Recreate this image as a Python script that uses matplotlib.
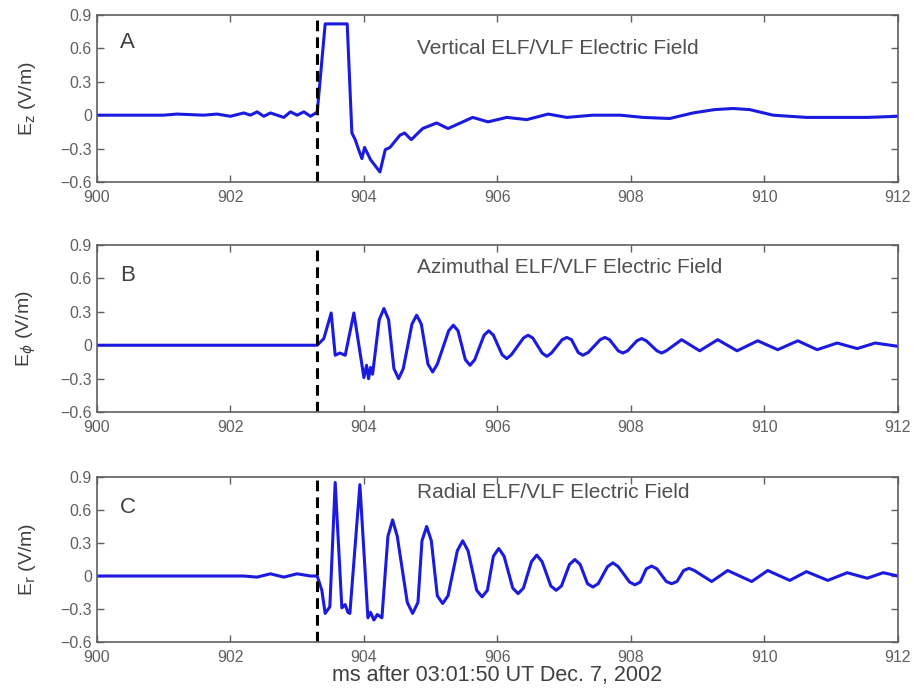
import matplotlib
matplotlib.use("Agg")
import matplotlib.pyplot as plt

plt.rcParams['font.family'] = ['Liberation Sans', 'DejaVu Sans']

# ---- data ----
ez_t = [900.0, 901.0, 901.2, 901.6, 901.8, 902.0, 902.2, 902.3, 902.4, 902.5, 902.6, 902.7,
        902.8, 902.9, 903.0, 903.1, 903.2, 903.28, 903.3, 903.42, 903.75, 903.82, 903.87,
        903.91, 903.97, 904.01, 904.1, 904.24, 904.32, 904.39, 904.54, 904.61, 904.71,
        904.88, 905.09, 905.26, 905.63, 905.86, 906.14, 906.44, 906.76, 907.04, 907.43,
        907.84, 908.18, 908.58, 908.93, 909.25, 909.53, 909.78, 910.13, 910.63, 911.54, 912.0]
ez_v = [0.0, 0.0, 0.01, 0.0, 0.01, -0.01, 0.02, 0.0, 0.03, -0.01, 0.02, 0.0,
        -0.02, 0.03, 0.0, 0.03, -0.01, 0.02, 0.02, 0.82, 0.82, -0.16, -0.22,
        -0.29, -0.39, -0.29, -0.40, -0.51, -0.31, -0.29, -0.18, -0.16, -0.22,
        -0.12, -0.07, -0.12, -0.02, -0.06, -0.02, -0.04, 0.01, -0.02, 0.0,
        0.0, -0.02, -0.03, 0.02, 0.05, 0.06, 0.05, 0.0, -0.02, -0.02, -0.01]

ephi_t = [900.0, 903.3, 903.4, 903.51, 903.57, 903.64, 903.72, 903.85, 904.0, 904.04,
          904.07, 904.1, 904.13,
          904.23, 904.30, 904.37, 904.45, 904.52, 904.59, 904.72, 904.79, 904.86,
          904.96, 905.03, 905.10, 905.27, 905.34, 905.41, 905.52, 905.59, 905.66,
          905.80, 905.87, 905.94, 906.07, 906.14, 906.21, 906.39, 906.46, 906.53,
          906.67, 906.74, 906.81, 906.97, 907.04, 907.11, 907.21, 907.28, 907.36,
          907.54, 907.61, 907.68, 907.81, 907.88, 907.95, 908.09, 908.16, 908.23,
          908.39, 908.46, 908.53,
          908.76, 909.03, 909.3, 909.59, 909.9, 910.2, 910.5, 910.79, 911.09, 911.39,
          911.66, 912.0]
ephi_v = [0.0, 0.0, 0.06, 0.29, -0.09, -0.07, -0.09, 0.29, -0.29, -0.18,
          -0.30, -0.20, -0.26,
          0.23, 0.33, 0.23, -0.21, -0.30, -0.21, 0.19, 0.27, 0.19,
          -0.17, -0.24, -0.17, 0.13, 0.18, 0.13, -0.13, -0.18, -0.13,
          0.09, 0.13, 0.09, -0.085, -0.12, -0.085, 0.065, 0.09, 0.065,
          -0.07, -0.10, -0.07, 0.05, 0.07, 0.05, -0.065, -0.09, -0.065,
          0.05, 0.07, 0.05, -0.05, -0.07, -0.05, 0.04, 0.06, 0.04,
          -0.05, -0.07, -0.05,
          0.05, -0.05, 0.05, -0.05, 0.04, -0.04, 0.04, -0.04, 0.02, -0.03,
          0.02, -0.01]

er_t = [900.0, 902.2, 902.4, 902.6, 902.8, 903.0, 903.2, 903.3, 903.37, 903.42, 903.49,
        903.57, 903.67, 903.72, 903.76, 903.79, 903.94, 904.06, 904.1, 904.15, 904.2,
        904.27,
        904.36, 904.43, 904.50, 904.65, 904.73, 904.81, 904.87, 904.94, 905.01,
        905.10, 905.18, 905.26, 905.40, 905.48, 905.56, 905.69, 905.77, 905.85,
        905.94, 906.02, 906.10, 906.23, 906.31, 906.39, 906.51, 906.59, 906.67,
        906.80, 906.88, 906.96, 907.08, 907.16, 907.24, 907.35, 907.43, 907.51,
        907.65, 907.73, 907.81, 907.98, 908.06, 908.14, 908.23, 908.31, 908.39,
        908.53, 908.61, 908.69, 908.79, 908.87, 908.95,
        909.21, 909.45, 909.81, 910.05, 910.38, 910.63, 910.95, 911.24, 911.54,
        911.78, 912.0]
er_v = [0.0, 0.0, -0.01, 0.02, -0.01, 0.02, 0.0, 0.0, -0.13, -0.34, -0.28,
        0.85, -0.29, -0.26, -0.33, -0.34, 0.83, -0.38, -0.33, -0.40, -0.35,
        -0.38,
        0.36, 0.51, 0.36, -0.24, -0.34, -0.24, 0.32, 0.45, 0.32,
        -0.18, -0.25, -0.18, 0.23, 0.32, 0.23, -0.13, -0.19, -0.13,
        0.18, 0.25, 0.18, -0.11, -0.16, -0.11, 0.13, 0.19, 0.13,
        -0.09, -0.13, -0.09, 0.105, 0.15, 0.105, -0.07, -0.10, -0.07,
        0.085, 0.12, 0.085, -0.055, -0.08, -0.055, 0.065, 0.09, 0.065,
        -0.05, -0.07, -0.05, 0.05, 0.07, 0.05,
        -0.05, 0.05, -0.05, 0.05, -0.04, 0.04, -0.04, 0.03, -0.02,
        0.03, 0.0]

onset = 903.3
x_ticks = [900, 902, 904, 906, 908, 910, 912]
y_ticks = [0.9, 0.6, 0.3, 0, -0.3, -0.6]
y_tick_labels = ['0.9', '0.6', '0.3', '0', '\u22120.3', '\u22120.6']

panels = [
    (ez_t, ez_v, 'A', 'Vertical ELF/VLF Electric Field', r'E$_\mathrm{z}$ (V/m)', 0.60, 0.65),
    (ephi_t, ephi_v, 'B', 'Azimuthal ELF/VLF Electric Field', r'E$_\phi$ (V/m)', 0.70, 0.63),
    (er_t, er_v, 'C', 'Radial ELF/VLF Electric Field', r'E$_\mathrm{r}$ (V/m)', 0.76, 0.62),
]

fig = plt.figure(figsize=(9.14, 6.94), dpi=100)
rects = [[0.106, 0.7378, 0.8764, 0.2406],
         [0.106, 0.4063, 0.8764, 0.2406],
         [0.106, 0.0749, 0.8764, 0.2378]]

gray = '#606060'
for rect, (t, v, letter, title, ylabel, ty, ly) in zip(rects, panels):
    ax = fig.add_axes(rect)
    ax.plot(t, v, color='#1a1ae0', lw=2.2, solid_joinstyle='round')
    ax.axvline(onset, color='black', lw=2.2, ls=(0, (3.5, 2)))
    ax.set_xlim(900, 912)
    ax.set_ylim(-0.6, 0.9)
    ax.set_xticks(x_ticks)
    ax.set_yticks(y_ticks)
    ax.set_yticklabels(y_tick_labels)
    ax.tick_params(direction='in', top=True, right=True, length=5, width=1,
                   colors=gray, labelsize=11.5, labelcolor=gray)
    ax.tick_params(axis='x', pad=6)
    for s in ax.spines.values():
        s.set_color(gray)
        s.set_linewidth(1.2)
    ax.set_ylabel(ylabel, fontsize=14, color='#404040', labelpad=16)
    ax.text(900.35, ly, letter, fontsize=16, color='#404040', va='center', ha='left')
    ax.text(904.8, ty, title, fontsize=15, color='#505050', va='center', ha='left')
    if letter == 'C':
        ax.set_xlabel('ms after 03:01:50 UT Dec. 7, 2002', fontsize=15.5,
                      color='#404040', labelpad=0)

fig.savefig('out.png', dpi=100)
